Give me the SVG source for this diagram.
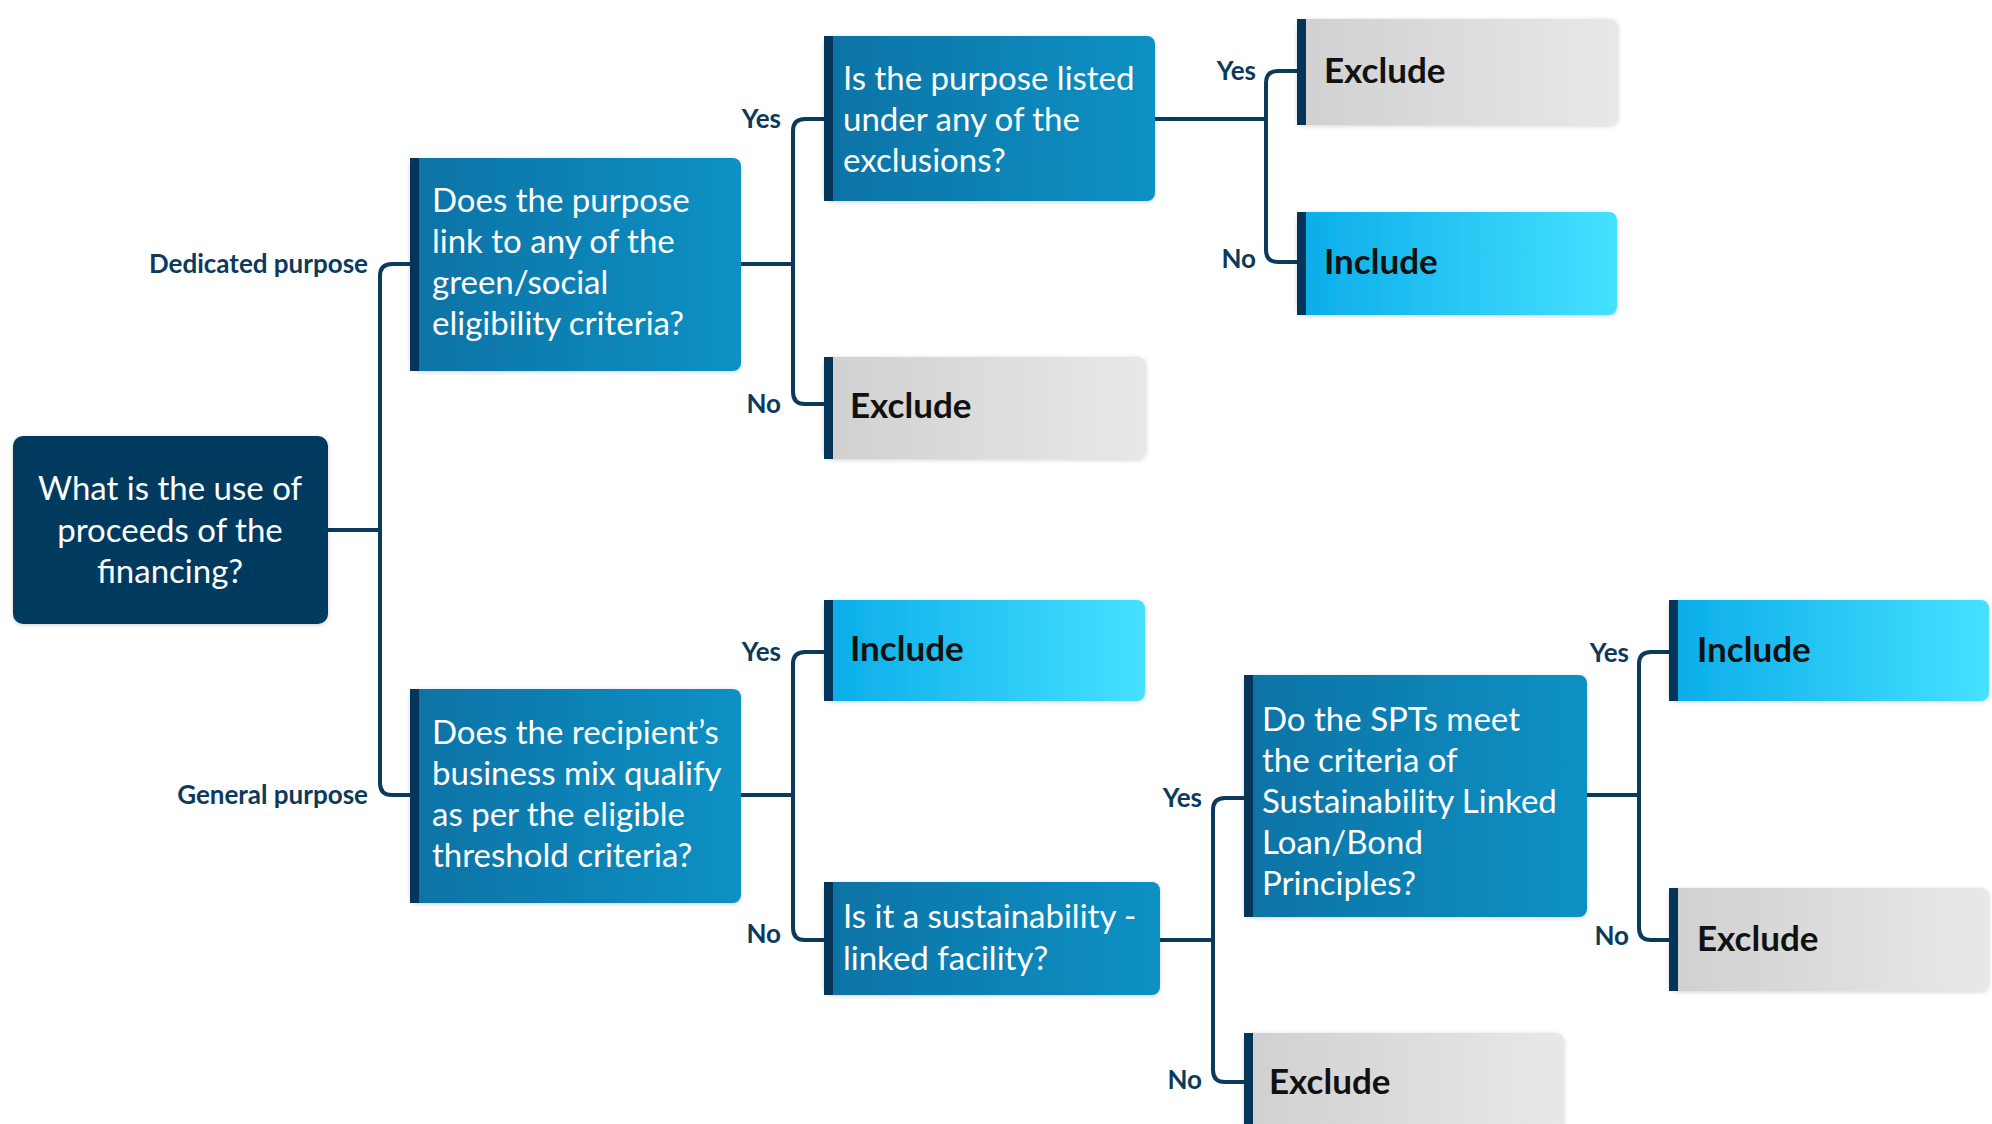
<svg xmlns="http://www.w3.org/2000/svg" width="1992" height="1124" viewBox="0 0 1992 1124">
<defs>
<linearGradient id="gQ" x1="0" y1="0" x2="1" y2="0"><stop offset="0" stop-color="#0a72a5"/><stop offset="1" stop-color="#0b91c4"/></linearGradient>
<linearGradient id="gIn" x1="0" y1="0" x2="1" y2="0"><stop offset="0" stop-color="#0aace9"/><stop offset="1" stop-color="#46e1ff"/></linearGradient>
<linearGradient id="gEx" x1="0" y1="0" x2="1" y2="0"><stop offset="0" stop-color="#d0d0d0"/><stop offset="1" stop-color="#e8e8e8"/></linearGradient>
<filter id="sh" x="-5%" y="-10%" width="110%" height="120%"><feDropShadow dx="0" dy="1" stdDeviation="2" flood-color="#000" flood-opacity="0.18"/></filter>
</defs>
<style>
.q{fill:url(#gQ);filter:url(#sh)}
.in{fill:url(#gIn);filter:url(#sh)}
.ex{fill:url(#gEx);filter:url(#sh)}
.st{fill:#053659}
.qt{font-family:Lato,"Open Sans",sans-serif;font-size:33px;fill:#ffffff}
.rt{font-family:Lato,"Open Sans",sans-serif;font-size:33px;fill:#ffffff;text-anchor:middle}
.bt{font-family:Lato,"Open Sans",sans-serif;font-size:35px;font-weight:bold;fill:#111111}
.lb{font-family:Lato,"Open Sans",sans-serif;font-size:26px;font-weight:bold;fill:#0b3a5c;text-anchor:end}
.cn{fill:none;stroke:#0b3a5c;stroke-width:4}
</style>
<rect width="1992" height="1124" fill="#ffffff"/>
<g id="connectors">
<path class="cn" d="M328 530 H380"/>
<path class="cn" d="M410 264 H392 Q380 264 380 276 V783 Q380 795 392 795 H410"/>
<path class="cn" d="M741 264 H793"/>
<path class="cn" d="M824 119 H805 Q793 119 793 131 V392 Q793 404 805 404 H824"/>
<path class="cn" d="M1155 119 H1266"/>
<path class="cn" d="M1297 71 H1278 Q1266 71 1266 83 V250 Q1266 262 1278 262 H1297"/>
<path class="cn" d="M741 795 H793"/>
<path class="cn" d="M824 652 H805 Q793 652 793 664 V928 Q793 940 805 940 H824"/>
<path class="cn" d="M1160 940 H1213"/>
<path class="cn" d="M1244 798 H1225 Q1213 798 1213 810 V1070 Q1213 1082 1225 1082 H1244"/>
<path class="cn" d="M1587 795 H1639"/>
<path class="cn" d="M1669 652 H1651 Q1639 652 1639 664 V928 Q1639 940 1651 940 H1669"/>
</g>
<g id="labels">
<text class="lb" x="368" y="273">Dedicated purpose</text>
<text class="lb" x="368" y="804">General purpose</text>
<text class="lb" x="781" y="128">Yes</text>
<text class="lb" x="781" y="413">No</text>
<text class="lb" x="1256" y="80">Yes</text>
<text class="lb" x="1256" y="268">No</text>
<text class="lb" x="781" y="661">Yes</text>
<text class="lb" x="781" y="943">No</text>
<text class="lb" x="1202" y="807">Yes</text>
<text class="lb" x="1202" y="1089">No</text>
<text class="lb" x="1629" y="662">Yes</text>
<text class="lb" x="1629" y="945">No</text>
</g>
<g id="root">
<rect x="13" y="436" width="315" height="188" rx="10" fill="#063a5f" filter="url(#sh)"/>
<text class="rt" x="170" y="500">What is the use of</text>
<text class="rt" x="170" y="542">proceeds of the</text>
<text class="rt" x="170" y="583">financing?</text>
</g>
<g id="q-dedicated">
<rect class="q" x="410" y="158" width="331" height="213" rx="8"/>
<rect class="st" x="410" y="158" width="9" height="213"/>
<text class="qt" x="432" y="212">Does the purpose</text>
<text class="qt" x="432" y="253">link to any of the</text>
<text class="qt" x="432" y="294">green/social</text>
<text class="qt" x="432" y="335">eligibility criteria?</text>
</g>
<g id="q-exclusions">
<rect class="q" x="824" y="36" width="331" height="165" rx="8"/>
<rect class="st" x="824" y="36" width="9" height="165"/>
<text class="qt" x="843" y="90">Is the purpose listed</text>
<text class="qt" x="843" y="131">under any of the</text>
<text class="qt" x="843" y="172">exclusions?</text>
</g>
<g id="exclude-1">
<rect class="ex" x="1297" y="19" width="321" height="106" rx="8"/>
<rect class="st" x="1297" y="19" width="9" height="106"/>
<text class="bt" x="1324" y="83">Exclude</text>
</g>
<g id="include-1">
<rect class="in" x="1297" y="212" width="320" height="103" rx="8"/>
<rect class="st" x="1297" y="212" width="9" height="103"/>
<text class="bt" x="1324" y="274">Include</text>
</g>
<g id="exclude-2">
<rect class="ex" x="824" y="357" width="322" height="102" rx="8"/>
<rect class="st" x="824" y="357" width="9" height="102"/>
<text class="bt" x="850" y="418">Exclude</text>
</g>
<g id="q-general">
<rect class="q" x="410" y="689" width="331" height="214" rx="8"/>
<rect class="st" x="410" y="689" width="9" height="214"/>
<text class="qt" x="432" y="744">Does the recipient’s</text>
<text class="qt" x="432" y="785">business mix qualify</text>
<text class="qt" x="432" y="826">as per the eligible</text>
<text class="qt" x="432" y="867">threshold criteria?</text>
</g>
<g id="include-2">
<rect class="in" x="824" y="600" width="321" height="101" rx="8"/>
<rect class="st" x="824" y="600" width="9" height="101"/>
<text class="bt" x="850" y="661">Include</text>
</g>
<g id="q-slf">
<rect class="q" x="824" y="882" width="336" height="113" rx="8"/>
<rect class="st" x="824" y="882" width="9" height="113"/>
<text class="qt" x="843" y="928">Is it a sustainability -</text>
<text class="qt" x="843" y="970">linked facility?</text>
</g>
<g id="q-spt">
<rect class="q" x="1244" y="675" width="343" height="242" rx="8"/>
<rect class="st" x="1244" y="675" width="9" height="242"/>
<text class="qt" x="1262" y="731">Do the SPTs meet</text>
<text class="qt" x="1262" y="772">the criteria of</text>
<text class="qt" x="1262" y="813">Sustainability Linked</text>
<text class="qt" x="1262" y="854">Loan/Bond</text>
<text class="qt" x="1262" y="895">Principles?</text>
</g>
<g id="include-3">
<rect class="in" x="1669" y="600" width="320" height="101" rx="8"/>
<rect class="st" x="1669" y="600" width="9" height="101"/>
<text class="bt" x="1697" y="662">Include</text>
</g>
<g id="exclude-3">
<rect class="ex" x="1669" y="888" width="320" height="103" rx="8"/>
<rect class="st" x="1669" y="888" width="9" height="103"/>
<text class="bt" x="1697" y="951">Exclude</text>
</g>
<g id="exclude-4">
<rect class="ex" x="1244" y="1033" width="320" height="110" rx="8"/>
<rect class="st" x="1244" y="1033" width="9" height="110"/>
<text class="bt" x="1269" y="1094">Exclude</text>
</g>
</svg>
